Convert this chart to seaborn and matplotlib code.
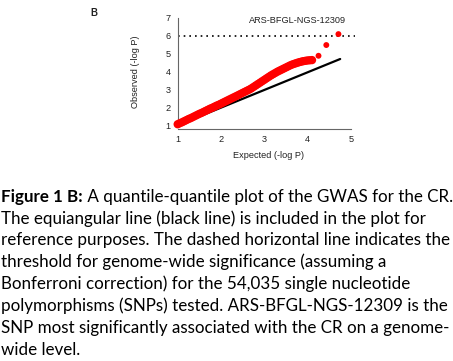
import matplotlib
matplotlib.use("Agg")
import matplotlib.pyplot as plt
import seaborn as sns
import pandas as pd

# QQ plot values (expected vs observed -log10 P)
expected = [1.00, 1.05, 1.10, 1.15, 1.20, 1.25, 1.30, 1.35, 1.40, 1.45,
            1.50, 1.55, 1.60, 1.65, 1.70, 1.75, 1.80, 1.85, 1.90, 1.95,
            2.00, 2.05, 2.10, 2.15, 2.20, 2.25, 2.30, 2.35, 2.40, 2.45,
            2.50, 2.55, 2.60, 2.65, 2.70, 2.75, 2.80, 2.85, 2.90, 2.95,
            3.00, 3.05, 3.10, 3.15, 3.20, 3.25, 3.30, 3.35, 3.40, 3.45,
            3.50, 3.55, 3.60, 3.65, 3.70, 3.75, 3.80, 3.85, 3.90, 3.95,
            4.00, 4.05, 4.10]
observed = [1.06, 1.12, 1.17, 1.23, 1.29, 1.35, 1.40, 1.46, 1.52, 1.58,
            1.64, 1.69, 1.75, 1.81, 1.87, 1.93, 1.98, 2.04, 2.10, 2.15,
            2.21, 2.27, 2.33, 2.39, 2.45, 2.51, 2.57, 2.63, 2.69, 2.75,
            2.81, 2.87, 2.93, 2.99, 3.06, 3.14, 3.22, 3.30, 3.38, 3.46,
            3.54, 3.62, 3.70, 3.78, 3.85, 3.92, 3.99, 4.05, 4.11, 4.17,
            4.23, 4.29, 4.35, 4.40, 4.44, 4.48, 4.52, 4.55, 4.58, 4.60,
            4.62, 4.63, 4.64]
tail_expected = [4.25, 4.43, 4.71]
tail_observed = [4.88, 5.48, 6.09]
diag_x = [1.0, 4.75]
diag_y = [1.0, 4.70]
threshold = 6.0
x_ticks = [1, 2, 3, 4, 5]
y_ticks = [1, 2, 3, 4, 5, 6, 7]
top_snp = "ARS-BFGL-NGS-12309"

caption_bold = "Figure 1 B:"
caption_lines = [
    " A quantile-quantile plot of the GWAS for the CR.",
    "The equiangular line (black line) is included in the plot for",
    "reference purposes. The dashed horizontal line indicates the",
    "threshold for genome-wide significance (assuming a",
    "Bonferroni correction) for the 54,035 single nucleotide",
    "polymorphisms (SNPs) tested. ARS-BFGL-NGS-12309 is the",
    "SNP most significantly associated with the CR on a genome-",
    "wide level.",
]

W, H = 453, 361
sns.set_theme(style="white")
plt.rcParams['font.family'] = ['Liberation Sans', 'DejaVu Sans']

fig = plt.figure(figsize=(W / 100, H / 100), dpi=100)


def fx(px):
    return px / W


def fy(py):
    return 1 - py / H


ax = fig.add_axes([fx(177.7), fy(125.3), (351 - 177.7) / W, (125.3 - 17.8) / H])
ax.set_facecolor("white")

dense = pd.DataFrame({"expected": expected, "observed": observed})
tail = pd.DataFrame({"expected": tail_expected, "observed": tail_observed})
diag = pd.DataFrame({"x": diag_x, "y": diag_y})

sns.lineplot(data=diag, x="x", y="y", ax=ax, color="black", linewidth=1.6,
             clip_on=False, zorder=2)
ax.plot([1, 5.1], [threshold, threshold], color="black", linewidth=1.2,
        linestyle=(0, (1, 2.4)), clip_on=False, zorder=1)
sns.scatterplot(data=dense, x="expected", y="observed", ax=ax, color="#ff0000",
                s=36, edgecolor="none", clip_on=False, zorder=3)
sns.scatterplot(data=tail, x="expected", y="observed", ax=ax, color="#ff0000",
                s=18, edgecolor="none", clip_on=False, zorder=3)

ax.set_xlim(1, 5)
ax.set_ylim(1, 7)
ax.set_xticks(x_ticks)
ax.set_yticks(y_ticks)
ax.set_xlabel("")
ax.set_ylabel("")
for side in ["top", "right"]:
    ax.spines[side].set_visible(False)
ax.spines["bottom"].set_position(("outward", 2.9))
ax.spines["bottom"].set_bounds(1, 5)
ax.spines["left"].set_bounds(1, 7)
for side in ["bottom", "left"]:
    ax.spines[side].set_color("#666666")
    ax.spines[side].set_linewidth(0.8)
ax.tick_params(axis="both", direction="out", length=3, width=0.8,
               color="#666666", labelsize=6.6, labelcolor="#222222", pad=1.2)
ax.tick_params(axis="y", pad=2.2)

fig.text(fx(297), fy(20.5), top_snp, fontsize=6.6, color="#222222",
         ha="center", va="center")
fig.text(fx(268.3), fy(156), "Expected (-log P)", fontsize=6.6, color="#222222",
         ha="center", va="center")
fig.text(fx(136), fy(71.7), "Observed (-log P)", fontsize=6.6, color="#222222",
         ha="center", va="center", rotation=90)
fig.text(fx(94.3), fy(12.7), "B", fontsize=7, fontweight="bold",
         color="#222222", ha="center", va="center")

# caption, sized so the widest line fills the width
cap_font = ['Lato', 'DejaVu Sans']
renderer = fig.canvas.get_renderer()
probe = fig.text(0, 0, caption_lines[2], fontsize=10, family=cap_font)
width_px = probe.get_window_extent(renderer).width
probe.remove()
cap_size = 10 * 450 / width_px

x0 = 1.0
base0 = 201.7
step = 21.9
bold = fig.text(fx(x0), fy(base0), caption_bold, fontsize=cap_size,
                family=cap_font, fontweight="bold", color="black",
                ha="left", va="baseline")
bw = bold.get_window_extent(renderer).width
fig.text(fx(x0 + bw), fy(base0), caption_lines[0], fontsize=cap_size,
         family=cap_font, color="black", ha="left", va="baseline")
for i, line in enumerate(caption_lines[1:], start=1):
    fig.text(fx(x0), fy(base0 + step * i), line, fontsize=cap_size,
             family=cap_font, color="black", ha="left", va="baseline")

fig.savefig("out.png", dpi=100, facecolor="white")
